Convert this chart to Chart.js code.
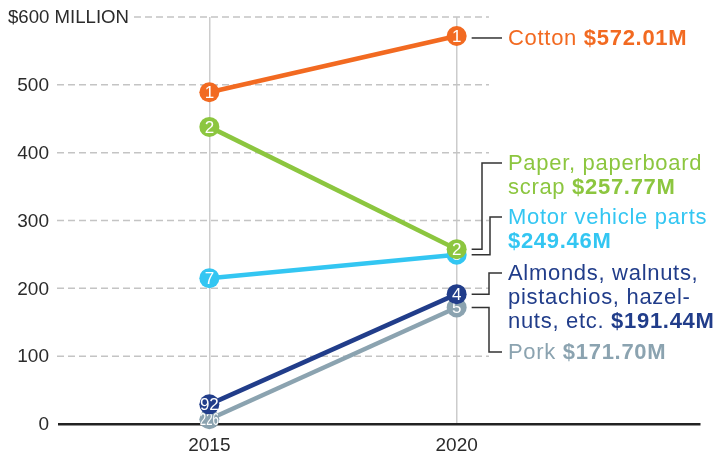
<!DOCTYPE html>
<html>
<head>
<meta charset="utf-8">
<script src="https://cdn.jsdelivr.net/npm/chart.js@4.4.1/dist/chart.umd.min.js"></script>
<style>
    html, body { margin: 0; padding: 0; background: #fff; }
    canvas { display: block; }
</style>
</head>
<body>
<canvas id="grafico" width="717" height="455"></canvas>
<script>
const anios = [2015, 2020];
const algodon = [489, 572.01];
const papel = [438, 257.77];
const autopartes = [215, 249.46];
const frutosSecos = [29, 191.44];
const cerdo = [7, 171.70];
const ranking2015 = ["1", "2", "7", "92", "226"];
const ranking2020 = ["1", "2", "3", "4", "5"];
const ticksY = [0, 100, 200, 300, 400, 500, 600];
const ticksX = [2015, 2020];

// texto de cada etiqueta: [normal, negrita] por renglon
const etiquetas = [
    [["Cotton ", "$572.01M"]],
    [["Paper, paperboard", ""], ["scrap ", "$257.77M"]],
    [["Motor vehicle parts", ""], ["", "$249.46M"]],
    [["Almonds, walnuts,", ""], ["pistachios, hazel-", ""], ["nuts, etc. ", "$191.44M"]],
    [["Pork ", "$171.70M"]]
];

const colores = ["#f26a21", "#8cc63f", "#33c6f2", "#213d8a", "#8ba3b0"];
const FUENTE = "'Liberation Sans', Arial, sans-serif";

// donde va cada etiqueta (y del primer renglon, x del codo del conector)
const posiciones = [
    { y: null, codo: null },
    { y: 163, codo: 482 },
    { y: 217, codo: 490 },
    { y: 273, codo: 489 },
    { y: 352, codo: 489 }
];

const pluginFondo = {
    id: "fondo",
    beforeDatasetsDraw(chart) {
        const ctx = chart.ctx;
        const y = chart.scales.y;
        ctx.save();
        ctx.strokeStyle = "#c4c4c4";
        ctx.lineWidth = 1.5;
        ctx.setLineDash([7, 4]);
        ticksY.forEach(v => {
            if (v === 0) return;
            const py = y.getPixelForValue(v);
            ctx.beginPath();
            ctx.moveTo(v === 600 ? 134 : 57, py);
            ctx.lineTo(489, py);
            ctx.stroke();
        });
        ctx.setLineDash([]);

        ctx.fillStyle = "#2b2b2b";
        ctx.font = "19px " + FUENTE;
        ctx.textBaseline = "middle";
        ticksY.forEach(v => {
            const py = y.getPixelForValue(v) + 1;
            if (v === 600) {
                ctx.textAlign = "left";
                ctx.fillText("$600 MILLION", 8, py, 121);
            } else {
                ctx.textAlign = "right";
                ctx.fillText(String(v), 49, py);
            }
        });
        ctx.restore();
    }
};

const pluginRanking = {
    id: "ranking",
    afterDatasetDraw(chart, args) {
        const ctx = chart.ctx;
        const i = args.index;
        ctx.save();
        ctx.fillStyle = "#fff";
        ctx.font = "17px " + FUENTE;
        ctx.textAlign = "center";
        ctx.textBaseline = "middle";
        args.meta.data.forEach((p, j) => {
            const txt = j === 0 ? ranking2015[i] : ranking2020[i];
            ctx.fillText(txt, p.x, p.y + 1, 19);
        });
        ctx.restore();
    }
};

const pluginEtiquetas = {
    id: "etiquetas",
    afterDraw(chart) {
        const ctx = chart.ctx;
        const xTexto = 508;
        ctx.save();
        if ("letterSpacing" in ctx) ctx.letterSpacing = "0.7px";
        etiquetas.forEach((renglones, i) => {
            const punto = chart.getDatasetMeta(i).data[1];
            const x0 = punto.x + 15;
            const yPunto = punto.y;
            const pos = posiciones[i];
            const yEtiqueta = pos.y === null ? yPunto + 2 : pos.y;

            ctx.strokeStyle = "#333";
            ctx.lineWidth = 1.5;
            ctx.beginPath();
            ctx.moveTo(x0, pos.codo === null ? yEtiqueta : yPunto);
            if (pos.codo !== null) {
                ctx.lineTo(pos.codo, yPunto);
                ctx.lineTo(pos.codo, yEtiqueta);
            }
            ctx.lineTo(xTexto - 6, yEtiqueta);
            ctx.stroke();

            ctx.fillStyle = colores[i];
            ctx.textAlign = "left";
            ctx.textBaseline = "middle";
            renglones.forEach((r, k) => {
                const ty = yEtiqueta + k * 24 + 1;
                ctx.font = "22px " + FUENTE;
                ctx.fillText(r[0], xTexto, ty);
                const ancho = ctx.measureText(r[0]).width;
                ctx.font = "bold 22px " + FUENTE;
                ctx.fillText(r[1], xTexto + ancho, ty);
            });
        });
        ctx.restore();
    }
};

function serie(datos, i) {
    return {
        data: anios.map((a, k) => ({ x: a, y: datos[k] })),
        borderColor: colores[i],
        backgroundColor: colores[i],
        borderWidth: 4.5,
        pointRadius: 10,
        pointHoverRadius: 10,
        pointBorderWidth: 0,
        pointBackgroundColor: colores[i],
        clip: false
    };
}

new Chart(document.getElementById("grafico"), {
    type: "line",
    data: {
        datasets: [
            serie(algodon, 0),
            serie(papel, 1),
            serie(autopartes, 2),
            serie(frutosSecos, 3),
            serie(cerdo, 4)
        ]
    },
    options: {
        responsive: false,
        animation: false,
        events: [],
        layout: { padding: { left: 59, right: 17, top: 17, bottom: 0 } },
        plugins: {
            legend: { display: false },
            tooltip: { enabled: false }
        },
        scales: {
            x: {
                type: "linear",
                min: 2011.96,
                max: 2024.92,
                afterBuildTicks: scale => {
                    scale.ticks = ticksX.map(v => ({ value: v }));
                },
                afterFit: scale => { scale.height = 31; },
                ticks: {
                    color: "#2b2b2b",
                    font: { family: FUENTE, size: 19 },
                    padding: 10,
                    callback: v => String(v)
                },
                grid: { color: "#cccccc", lineWidth: 1.5, drawTicks: false },
                border: { display: true, color: "#222", width: 2.5 }
            },
            y: {
                display: false,
                min: 0,
                max: 600
            }
        }
    },
    plugins: [pluginFondo, pluginRanking, pluginEtiquetas]
});
</script>
</body>
</html>
